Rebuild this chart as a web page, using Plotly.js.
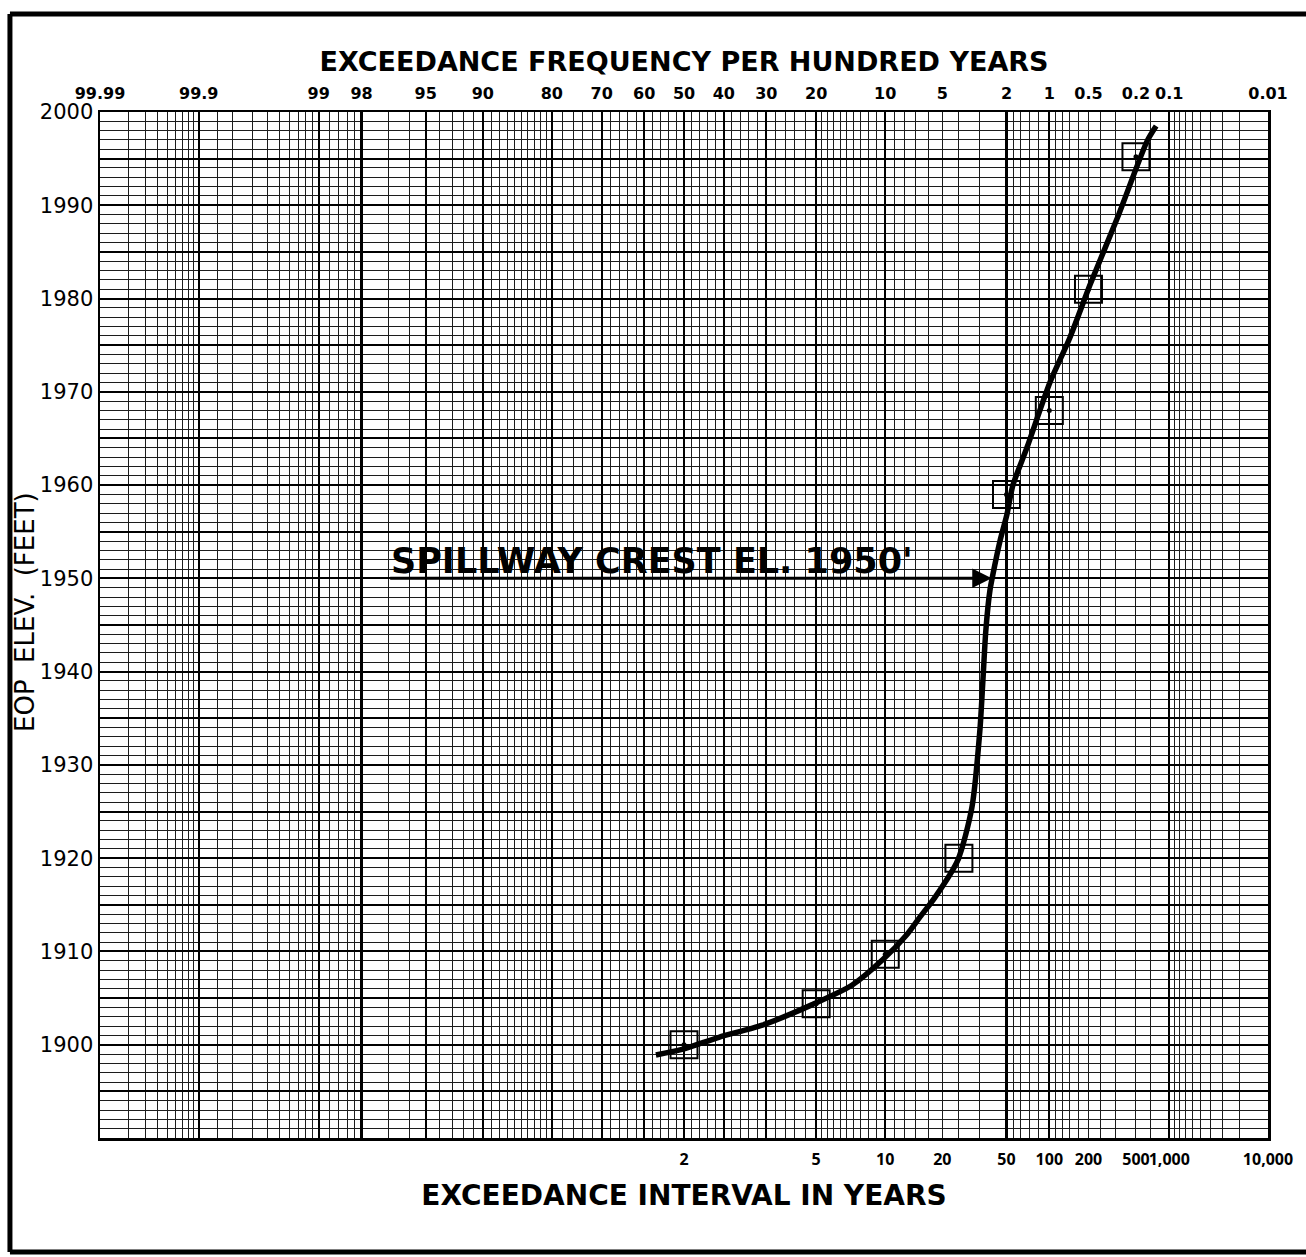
<!DOCTYPE html>
<html><head><meta charset="utf-8">
<script src="https://cdn.plot.ly/plotly-3.0.1.min.js"></script>
<style>html,body{margin:0;padding:0;background:#fff}</style>
</head><body>
<div id="chart" style="width:1306px;height:1257px"></div>
<script>
// ---------------- data ----------------
const pointIntervalYears = [2, 5, 10, 25, 50, 100, 200, 500];
const pointElevationFt   = [1900, 1904.4, 1909.7, 1920, 1959, 1968, 1981, 1995.2];

// fitted curve, read as exceedance frequency (per hundred years) vs elevation
const curveFrequencyPct = [57.1, 50.5, 41.2, 30.9, 20.7, 14.2, 10.3, 7.8, 6.7, 5.5, 4.06, 3.34, 2.98, 2.85, 2.73, 2.57, 2.46, 2.21, 1.99, 1.81, 1.45, 0.99, 0.70, 0.485, 0.29, 0.159, 0.132];
const curveElevationFt  = [1898.9, 1899.5, 1900.8, 1902.1, 1904.3, 1906.4, 1909.1, 1911.8, 1913.6, 1915.8, 1919.8, 1925.4, 1933.6, 1939.0, 1944.4, 1948.7, 1950.4, 1954.0, 1956.8, 1960.0, 1964.0, 1971.0, 1975.8, 1981.5, 1988.6, 1996.9, 1998.5];

const topTickPct  = [99.99, 99.9, 99, 98, 95, 90, 80, 70, 60, 50, 40, 30, 20, 10, 5, 2, 1, 0.5, 0.2, 0.1, 0.01];
const topTickText = ['99.99','99.9','99','98','95','90','80','70','60','50','40','30','20','10','5','2','1','0.5','0.2','0.1','0.01'];
const bottomTickYears = [2, 5, 10, 20, 50, 100, 200, 500, 1000, 10000];
const bottomTickText  = ['2','5','10','20','50','100','200','500','1,000','10,000'];
const elevTickVals = [1890,1895,1900,1905,1910,1915,1920,1925,1930,1935,1940,1945,1950,1955,1960,1965,1970,1975,1980,1985,1990,1995,2000];
const elevTickText = ['','','1900','','1910','','1920','','1930','','1940','','1950','','1960','','1970','','1980','','1990','','2000'];
const spillwayElevationFt = 1950;
const spillwayLabel = "SPILLWAY CREST EL. 1950'";

// probability-paper rulings (exceedance percent)
const heavyRulingPct = [99.9, 99, 98, 95, 90, 80, 70, 60, 50, 40, 30, 20, 10, 2, 1, 0.1];
const lightRulingPct = [99.98,99.97,99.96,99.95,99.94,99.93,99.92,99.91,
  99.85,99.8,99.7,99.6,99.5,99.4,99.3,99.2,99.1,
  98.8,98.6,98.4,98.2, 97,96, 94,93,92,91,
  89,88,87,86,85,84,83,82,81, 78,76,74,72, 68,66,64,62, 58,56,54,52,
  48,46,44,42, 38,36,34,32, 28,26,24,22,
  19,18,17,16,15,14,13,12,11, 9,8,7,6,5,4,3,
  1.8,1.6,1.4,1.2, 0.9,0.8,0.7,0.6,0.5,0.4,0.3,0.2,0.15,
  0.09,0.08,0.07,0.06,0.05,0.04,0.03,0.02];

// ---------------- normal probability scale ----------------
function probit(p){
  const a=[-3.969683028665376e+01,2.209460984245205e+02,-2.759285104469687e+02,1.383577518672690e+02,-3.066479806614716e+01,2.506628277459239e+00];
  const b=[-5.447609879822406e+01,1.615858368580409e+02,-1.556989798598866e+02,6.680131188771972e+01,-1.328068155288572e+01];
  const c=[-7.784894002430293e-03,-3.223964580411365e-01,-2.400758277161838e+00,-2.549671010388975e+00,4.374664141464968e+00,2.938163982698783e+00];
  const d=[7.784695709041462e-03,3.224671290700398e-01,2.445134137142996e+00,3.754408661907416e+00];
  const pl=0.02425, ph=1-pl; let q,r;
  if(p<pl){q=Math.sqrt(-2*Math.log(p));return (((((c[0]*q+c[1])*q+c[2])*q+c[3])*q+c[4])*q+c[5])/((((d[0]*q+d[1])*q+d[2])*q+d[3])*q+1);}
  if(p<=ph){q=p-0.5;r=q*q;return (((((a[0]*r+a[1])*r+a[2])*r+a[3])*r+a[4])*r+a[5])*q/(((((b[0]*r+b[1])*r+b[2])*r+b[3])*r+b[4])*r+1);}
  q=Math.sqrt(-2*Math.log(1-p));return -(((((c[0]*q+c[1])*q+c[2])*q+c[3])*q+c[4])*q+c[5])/((((d[0]*q+d[1])*q+d[2])*q+d[3])*q+1);
}
const zPct = pct => probit(1 - pct/100);
const zYears = T => probit(1 - 1/T);
const xRange = [zPct(99.99) - 1e-6, zPct(0.01) + 1e-6];

const FONT = 'DejaVu Sans, Verdana, sans-serif';
const NARROW = 'Open Sans, DejaVu Sans, sans-serif';

const traces = [
  {
    x: curveFrequencyPct.map(zPct), y: curveElevationFt,
    type: 'scatter', mode: 'lines',
    line: {color: '#000', width: 5.5, shape: 'spline', smoothing: 0.7},
    hoverinfo: 'skip', showlegend: false
  },
  {
    x: pointIntervalYears.map(zYears), y: pointElevationFt,
    type: 'scatter', mode: 'markers',
    marker: {symbol: 'square-open', size: 27, color: '#000', line: {width: 2, color: '#000'}},
    showlegend: false
  },
  {
    x: pointIntervalYears.map(zYears), y: pointElevationFt,
    xaxis: 'x2',
    type: 'scatter', mode: 'markers',
    marker: {symbol: 'circle', size: 5, color: '#000'},
    hoverinfo: 'skip', showlegend: false
  }
];

const layout = {
  width: 1306, height: 1257,
  margin: {l: 100, r: 38, t: 112, b: 119, pad: 0},
  paper_bgcolor: '#fff', plot_bgcolor: '#fff',
  showlegend: false,
  font: {family: FONT, color: '#000'},
  xaxis: {
    range: xRange, fixedrange: true, zeroline: false,
    tickmode: 'array', tickvals: bottomTickYears.map(zYears), ticktext: bottomTickText,
    ticks: '', showgrid: false, ticklabelstandoff: 5, tickangle: 0,
    tickfont: {family: NARROW, size: 16, weight: 'bold', color: '#000'},
    showline: true, linecolor: '#000', linewidth: 2.5, mirror: true,
    minor: {tickmode: 'array', tickvals: lightRulingPct.map(zPct), showgrid: true, gridcolor: '#1c1c1c', gridwidth: 1, ticks: ''},
    title: {text: 'EXCEEDANCE INTERVAL IN YEARS', font: {family: FONT, size: 28, weight: 'bold', color: '#000'}, standoff: 17}
  },
  xaxis2: {
    range: xRange, fixedrange: true, zeroline: false,
    overlaying: 'x', side: 'top', anchor: 'y',
    tickmode: 'array', tickvals: topTickPct.map(zPct), ticktext: topTickText,
    ticks: '', showgrid: false, ticklabelstandoff: 9, tickangle: 0,
    tickfont: {family: FONT, size: 16, weight: 'bold', color: '#000'},
    showline: false,
    minor: {tickmode: 'array', tickvals: heavyRulingPct.map(zPct), showgrid: true, gridcolor: '#000', gridwidth: 2.3, ticks: ''},
    title: {text: 'EXCEEDANCE FREQUENCY PER HUNDRED YEARS', font: {family: FONT, size: 27, weight: 'bold', color: '#000'}, standoff: 4}
  },
  yaxis: {
    range: [1890, 2000], fixedrange: true, zeroline: false,
    tickmode: 'array', tickvals: elevTickVals, ticktext: elevTickText,
    ticks: '', showgrid: true, gridcolor: '#000', gridwidth: 2,
    tickfont: {family: FONT, size: 21, color: '#000'},
    showline: true, linecolor: '#000', linewidth: 2.5, mirror: true,
    minor: {dtick: 1, tick0: 1890, showgrid: true, gridcolor: '#1c1c1c', gridwidth: 1, ticks: ''}
  },
  annotations: [
    {
      xref: 'paper', yref: 'paper', x: -0.0642, y: 0.5127, xanchor: 'center', yanchor: 'middle',
      textangle: -90, showarrow: false,
      text: 'EOP\u00a0\u00a0ELEV.\u00a0\u00a0(FEET)',
      font: {family: FONT, size: 26, color: '#000'}
    },
    {
      xref: 'x', yref: 'y', axref: 'x', ayref: 'y',
      x: zPct(2.5), y: spillwayElevationFt,
      ax: zPct(97.0), ay: spillwayElevationFt,
      text: '', showarrow: true, arrowhead: 2, arrowsize: 1.3, arrowwidth: 3, arrowcolor: '#000',
      standoff: 0, startstandoff: 0
    },
    {
      xref: 'x', yref: 'y', x: zPct(97.0), y: spillwayElevationFt - 0.45,
      xanchor: 'left', yanchor: 'bottom', showarrow: false,
      text: spillwayLabel,
      font: {family: FONT, size: 35, weight: 'bold', color: '#000'}
    }
  ],
  shapes: [
    {type: 'line', xref: 'paper', yref: 'paper', x0: -0.0771, x1: -0.0771, y0: 1.0955, y1: -0.1111, line: {color: '#000', width: 5}},
    {type: 'line', xref: 'paper', yref: 'paper', x0: -0.0771, x1: 1.04, y0: 1.0955, y1: 1.0955, line: {color: '#000', width: 5}},
    {type: 'line', xref: 'paper', yref: 'paper', x0: -0.0771, x1: 1.04, y0: -0.1111, y1: -0.1111, line: {color: '#000', width: 5}}
  ]
};

Plotly.newPlot('chart', traces, layout, {staticPlot: true, displayModeBar: false});
</script>
</body></html>
